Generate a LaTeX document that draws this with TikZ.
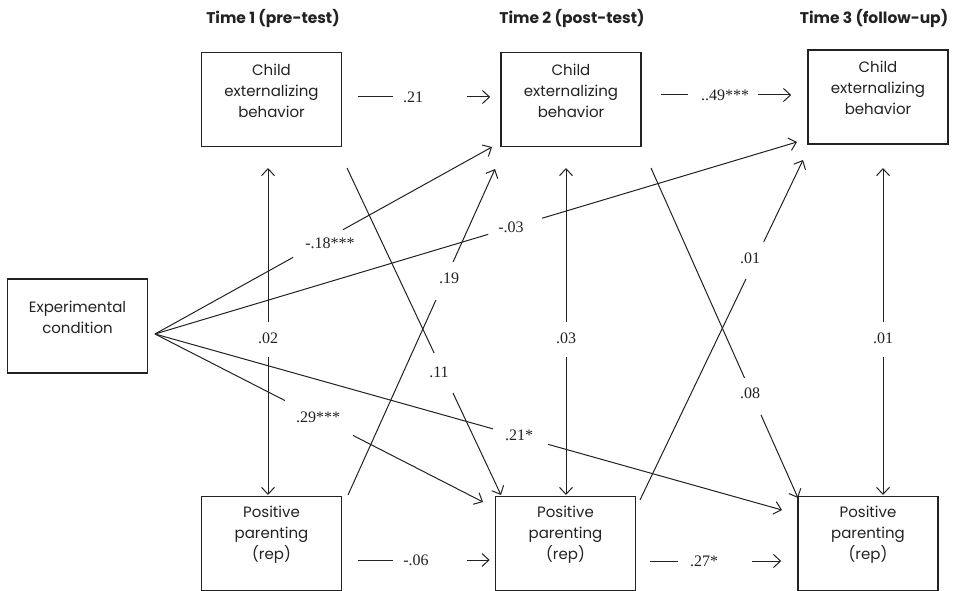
\documentclass[tikz,border=0pt]{standalone}
\usepackage{fontspec}
\setmainfont{Liberation Serif}
\newfontfamily\geofont{Poppins}
\usetikzlibrary{arrows.meta,calc}
\definecolor{ink}{HTML}{222222}
\tikzset{
  box/.style={draw=ink,line width=1.6pt,minimum width=140pt,minimum height=94pt,inner sep=0pt},
  boxtext/.style={align=center,text=ink,font=\geofont\fontsize{15}{21}\selectfont,inner sep=0pt},
  header/.style={text=ink,font=\geofont\bfseries\fontsize{15.5}{18}\selectfont,inner sep=0pt},
  coef/.style={text=ink,font=\fontsize{16}{18}\selectfont,inner sep=0pt},
  path/.style={draw=ink,line width=1pt},
  arr/.style={path,-{Straight Barb[length=7pt,width=13pt,line width=1pt]}},
}
\begin{document}
\begin{tikzpicture}[x=1pt,y=-1pt]
\useasboundingbox[fill=white] (0,0) rectangle (956,591);

% column headers
\node[header] (h1) at (273,18) {Time 1 (pre-test)};
\node[header] (h2) at (572,18) {Time 2 (post-test)};
\node[header] (h3) at (874,18) {Time 3 (follow-up)};

% variable boxes
\node[box] (c1) at (271.5,99.5) {};
\node[box] (c2) at (571,99.5) {};
\node[box] (c3) at (878,97) {};
\node[box] (ex) at (77.5,326) {};
\node[box] (p1) at (271.5,543.5) {};
\node[box] (p2) at (565.5,543.5) {};
\node[box] (p3) at (868,543.5) {};

\node[boxtext] (c1t) at ([yshift=9pt]c1.center) {Child\\externalizing\\behavior};
\node[boxtext] (c2t) at ([yshift=9pt]c2.center) {Child\\externalizing\\behavior};
\node[boxtext] (c3t) at ([yshift=9pt]c3.center) {Child\\externalizing\\behavior};
\node[boxtext] (ext) at ([yshift=9pt]ex.center) {Experimental\\condition};
\node[boxtext] (p1t) at ([yshift=9pt]p1.center) {Positive\\parenting\\(rep)};
\node[boxtext] (p2t) at ([yshift=9pt]p2.center) {Positive\\parenting\\(rep)};
\node[boxtext] (p3t) at ([yshift=9pt]p3.center) {Positive\\parenting\\(rep)};

% ---- stability paths (horizontal) ----
\node[coef] (k21) at (413,97) {.21};
\draw[path] ([xshift=16pt]c1.east |- k21) -- ([xshift=-20pt]k21.center);
\draw[arr] ([xshift=54pt]k21.center) -- ([xshift=-10pt]c2.west |- k21);

\node[coef] (k49) at (725,95) {..49***};
\draw[path] ([xshift=19pt]c2.east |- k49) -- ([xshift=-37pt]k49.center);
\draw[arr] ([xshift=33pt]k49.center) -- ([xshift=-16pt]c3.west |- k49);

\node[coef] (k06) at (416,560) {-.06};
\draw[path] ([xshift=16pt]p1.east |- k06) -- ([xshift=-23pt]k06.center);
\draw[arr] ([xshift=51pt]k06.center) -- ([xshift=-5pt]p2.west |- k06);

\node[coef] (k27) at (704,561) {.27*};
\draw[path] ([xshift=14pt]p2.east |- k27) -- ([xshift=-26pt]k27.center);
\draw[arr] ([xshift=48pt]k27.center) -- ([xshift=-16pt]p3.west |- k27);

% ---- within-time correlations (vertical, two-headed) ----
\coordinate (v1a) at (268,168); \coordinate (v1b) at (268,495);
\coordinate (v2a) at (566,168); \coordinate (v2b) at (566,495);
\coordinate (v3a) at (883,168); \coordinate (v3b) at (883,495);
\node[coef] (k02) at (268,338) {.02};
\node[coef] (k03) at (566,338) {.03};
\node[coef] (k01v) at (883,338) {.01};
\foreach \a/\b/\k in {v1a/v1b/k02, v2a/v2b/k03, v3a/v3b/k01v}{
  \draw[arr] ([yshift=16pt]\k.center) -- (\a);
  \draw[arr] ([yshift=-19pt]\k.center) -- (\b);
}

% ---- effects of the experimental condition ----
\coordinate (eo) at (155,334);
\coordinate (e1) at (492,147);
\coordinate (e2) at (797,142);
\coordinate (e3) at (483,502);
\coordinate (e4) at (782,510);
\node[coef] (k18) at (330,243) {-.18***};
\node[coef] (k03e) at (511,227) {-.03};
\node[coef] (k29) at (318,417) {.29***};
\node[coef] (k21s) at (519,435) {.21*};
\draw[path] (eo) -- ($(eo)!0.41!(e1)$);
\draw[arr] ($(eo)!0.558!(e1)$) -- (e1);
\draw[path] (eo) -- ($(eo)!0.519!(e2)$);
\draw[arr] ($(eo)!0.603!(e2)$) -- (e2);
\draw[path] (eo) -- ($(eo)!0.396!(e3)$);
\draw[arr] ($(eo)!0.604!(e3)$) -- (e3);
\draw[path] (eo) -- ($(eo)!0.539!(e4)$);
\draw[arr] ($(eo)!0.627!(e4)$) -- (e4);

% ---- cross-lagged paths ----
\coordinate (x1a) at (347,168); \coordinate (x1b) at (501,495);
\coordinate (x2a) at (348,495); \coordinate (x2b) at (495,169);
\coordinate (x3a) at (651,168); \coordinate (x3b) at (798,498);
\coordinate (x4a) at (640,500); \coordinate (x4b) at (803,160);
\node[coef] (k11) at (439,372) {.11};
\node[coef] (k19) at (449,278) {.19};
\node[coef] (k08) at (750,393) {.08};
\node[coef] (k01) at (750,258) {.01};
\draw[path] (x1a) -- ($(x1a)!0.566!(x1b)$);
\draw[arr] ($(x1a)!0.688!(x1b)$) -- (x1b);
\draw[path] (x2a) -- ($(x2a)!0.598!(x2b)$);
\draw[arr] ($(x2a)!0.715!(x2b)$) -- (x2b);
\draw[path] (x3a) -- ($(x3a)!0.636!(x3b)$);
\draw[arr] ($(x3a)!0.748!(x3b)$) -- (x3b);
\draw[path] (x4a) -- ($(x4a)!0.65!(x4b)$);
\draw[arr] ($(x4a)!0.759!(x4b)$) -- (x4b);
\end{tikzpicture}
\end{document}
